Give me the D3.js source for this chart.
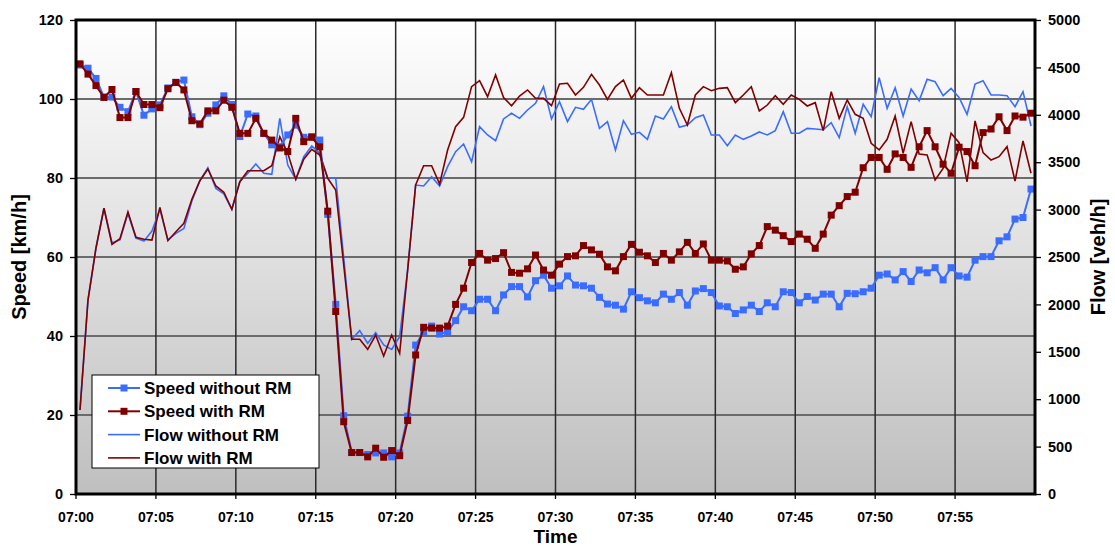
<!DOCTYPE html>
<html><head><meta charset="utf-8">
<script src="https://cdn.jsdelivr.net/npm/d3@7"></script>
<style>
html,body{margin:0;padding:0;background:#fff;}
svg{display:block;font-family:"Liberation Sans",Arial,sans-serif;font-weight:bold;}
</style></head>
<body>
<svg id="c" width="1115" height="547"></svg>
<script>
// ---- data ----
const times = d3.range(120).map(i => {
  const m = Math.floor(i / 2), s = (i % 2) * 30;
  return "07:" + String(m).padStart(2, "0") + ":" + String(s).padStart(2, "0");
});
const tickLabels = ["07:00","07:05","07:10","07:15","07:20","07:25","07:30","07:35","07:40","07:45","07:50","07:55"];
const speedTicks = [0,20,40,60,80,100,120];
const flowTicks = [0,500,1000,1500,2000,2500,3000,3500,4000,4500,5000];

const speedWithoutRM = [108.6,107.8,105.2,100.5,100.5,97.9,96.8,101.9,95.9,97.5,98.5,102.8,104.2,104.8,95.5,93.5,96.4,98.5,100.8,98.6,
90.5,96.2,95.7,91.3,88.4,87.9,90.9,93.4,90.3,90.5,89.6,70.8,48.0,19.8,10.5,10.5,10.0,10.4,10.4,9.4,
10.4,19.7,37.7,41.1,42.5,40.5,41.1,43.9,47.4,46.4,49.3,49.3,46.4,50.4,52.5,52.5,49.9,54.0,55.4,52.1,
52.7,55.2,52.9,52.7,52.1,49.8,48.1,47.8,46.8,51.2,49.7,48.9,48.4,50.6,49.3,51.0,47.8,51.4,52.0,51.0,
47.6,47.4,45.7,46.6,47.8,46.2,48.4,47.4,51.2,51.0,48.4,50.0,49.1,50.6,50.6,47.4,50.8,50.7,51.2,52.1,
55.4,55.7,54.2,56.3,53.8,56.7,56.0,57.3,54.2,57.3,55.2,54.9,59.2,60.1,60.1,64.1,65.1,69.6,70.0,77.2];

const speedWithRM = [108.9,106.3,103.4,100.4,102.4,95.3,95.3,101.9,98.6,98.6,97.8,102.6,104.2,102.3,94.5,93.7,97.0,97.0,99.7,97.9,
91.3,91.3,95.1,91.3,89.6,87.6,86.7,95.1,89.2,90.3,87.9,71.6,46.2,18.3,10.5,10.5,9.4,11.6,9.3,11.0,
9.7,18.6,35.2,42.2,42.0,42.0,42.5,48.0,52.1,58.6,60.9,59.2,59.6,61.1,56.1,55.9,57.0,60.5,56.7,55.4,
58.2,60.1,60.3,62.9,61.8,60.7,57.5,56.5,60.1,63.2,61.2,60.3,58.6,60.9,59.2,61.3,63.7,60.9,63.3,59.2,
59.2,59.0,56.9,57.5,60.8,62.9,67.7,66.8,65.4,63.9,65.8,64.5,62.2,65.8,70.6,73.0,75.3,76.4,82.6,85.2,
85.2,82.2,86.1,85.2,82.7,87.9,92.0,87.9,83.5,81.2,87.8,86.7,83.1,91.5,92.4,95.5,92.0,95.7,95.4,96.4];

const flowWithoutRM = [886,2046,2595,3014,2650,2680,2960,2700,2669,2774,3003,2680,2750,2802,3090,3305,3440,3224,3165,3003,
3294,3383,3481,3383,3372,3963,3470,3320,3558,3671,3594,3330,3330,2490,1632,1723,1590,1702,1572,1526,
1660,2363,3259,3249,3347,3249,3453,3611,3692,3505,3875,3787,3727,3956,4016,3963,4051,4121,4297,3956,
4138,3928,4079,4058,4163,3857,3928,3629,3938,3794,3815,3741,3987,3956,4086,3868,3892,3970,3998,3787,
3787,3674,3787,3741,3776,3819,3787,3833,4033,3805,3805,3857,3850,3843,3917,3759,4086,3805,4111,3980,
4392,4068,4286,3987,4272,4149,4374,4349,4202,4279,4184,4005,4325,4360,4209,4209,4202,4086,4244,3882];

const flowWithRM = [886,2046,2595,3014,2634,2693,2975,2708,2687,2679,3024,2672,2767,2855,3109,3305,3428,3249,3183,3003,
3294,3410,3410,3410,3463,3769,3594,3320,3531,3636,3576,3330,3207,2416,1632,1632,1526,1677,1456,1677,
1484,2363,3259,3463,3463,3270,3629,3875,3973,4297,4360,4191,4420,4181,4096,4198,4262,4174,4174,4096,
4325,4332,4209,4290,4427,4314,4163,4297,4367,4174,4286,4209,4209,4209,4444,4068,3892,4209,4297,4254,
4279,4286,4128,4209,4297,4040,4103,4202,4111,4209,4163,4093,4128,3833,4244,3963,4156,4005,3963,3699,
3629,3741,3987,3594,3928,3586,3576,3312,3435,3805,3706,3294,3935,3601,3523,3558,3664,3302,3724,3383];

const seriesNames = ["Speed without RM","Speed with RM","Flow without RM","Flow with RM"];
const blue = "#3a6cff", red = "#800000";

// ---- layout ----
const L = 76, R = 1035, T = 20, B = 494;
const svg = d3.select("#c");

const x = d3.scaleBand().domain(times).range([L, R]).paddingInner(0).paddingOuter(0);
const cx = t => x(t) + x.bandwidth() / 2;
const yS = d3.scaleLinear().domain([0, 120]).range([B, T]);
const yF = d3.scaleLinear().domain([0, 5000]).range([B, T]);

// gradient background
const defs = svg.append("defs");
const g = defs.append("linearGradient").attr("id", "bg").attr("x1", 0).attr("y1", 0).attr("x2", 0).attr("y2", 1);
g.append("stop").attr("offset", "0%").attr("stop-color", "#ffffff");
g.append("stop").attr("offset", "100%").attr("stop-color", "#bfbfbf");
svg.append("rect").attr("x", L).attr("y", T).attr("width", R - L).attr("height", B - T).attr("fill", "url(#bg)");

// horizontal grid
svg.append("g").selectAll("line").data(speedTicks.filter(d => d > 0 && d < 120)).join("line")
  .attr("x1", L).attr("x2", R).attr("y1", d => yS(d)).attr("y2", d => yS(d))
  .attr("stroke", "#6b6b6b").attr("stroke-width", 2);
// vertical grid
const tickCats = times.filter((t, i) => i % 10 === 0);
svg.append("g").selectAll("line").data(tickCats.slice(1)).join("line")
  .attr("x1", d => x(d)).attr("x2", d => x(d)).attr("y1", T).attr("y2", B)
  .attr("stroke", "#2a2a2a").attr("stroke-width", 1.5);

// lines
const lineS = d3.line().x((d, i) => cx(times[i])).y(d => yS(d));
const lineF = d3.line().x((d, i) => cx(times[i])).y(d => yF(d));
svg.append("path").datum(flowWithoutRM).attr("d", lineF).attr("fill", "none").attr("stroke", blue).attr("stroke-width", 1.6);
svg.append("path").datum(flowWithRM).attr("d", lineF).attr("fill", "none").attr("stroke", red).attr("stroke-width", 1.6);
svg.append("path").datum(speedWithoutRM).attr("d", lineS).attr("fill", "none").attr("stroke", blue).attr("stroke-width", 2);
svg.append("g").selectAll("rect").data(speedWithoutRM).join("rect")
  .attr("x", (d, i) => cx(times[i]) - 3.5).attr("y", d => yS(d) - 3.5).attr("width", 7).attr("height", 7).attr("fill", blue);
svg.append("path").datum(speedWithRM).attr("d", lineS).attr("fill", "none").attr("stroke", red).attr("stroke-width", 2);
svg.append("g").selectAll("rect").data(speedWithRM).join("rect")
  .attr("x", (d, i) => cx(times[i]) - 3.5).attr("y", d => yS(d) - 3.5).attr("width", 7).attr("height", 7).attr("fill", red);

// plot border
svg.append("rect").attr("x", L).attr("y", T).attr("width", R - L).attr("height", B - T)
  .attr("fill", "none").attr("stroke", "#000").attr("stroke-width", 3);

// axes
const axL = svg.append("g").attr("transform", `translate(${L},0)`)
  .call(d3.axisLeft(yS).tickValues(speedTicks).tickSize(6).tickPadding(7).tickFormat(d3.format("d")));
const axR = svg.append("g").attr("transform", `translate(${R},0)`)
  .call(d3.axisRight(yF).tickValues(flowTicks).tickSize(6).tickPadding(7).tickFormat(d3.format("d")));
const axB = svg.append("g").attr("transform", `translate(0,${B})`)
  .call(d3.axisBottom(x).tickValues(tickCats).tickSize(5).tickPadding(13)
    .tickFormat(d => tickLabels[tickCats.indexOf(d)]));
axB.selectAll(".tick").attr("transform", d => `translate(${x(d)},0)`);
[axL, axR, axB].forEach(a => {
  a.select(".domain").remove();
  a.selectAll("line").attr("stroke", "#000").attr("stroke-width", 1.3);
  a.selectAll("text").attr("font-family", "Liberation Sans, Arial, sans-serif")
    .attr("font-weight", "bold").attr("fill", "#000");
});
axL.selectAll("text").attr("font-size", 14.5);
axR.selectAll("text").attr("font-size", 14.5);
axB.selectAll("text").attr("font-size", 14);

// axis titles
svg.append("text").attr("transform", `translate(26,${(T + B) / 2}) rotate(-90)`)
  .attr("text-anchor", "middle").attr("font-size", 20).text("Speed [km/h]");
svg.append("text").attr("transform", `translate(1105,${(T + B) / 2}) rotate(-90)`)
  .attr("text-anchor", "middle").attr("font-size", 20).text("Flow [veh/h]");
svg.append("text").attr("x", (L + R) / 2).attr("y", 543)
  .attr("text-anchor", "middle").attr("font-size", 19).text("Time");

// legend
const lg = svg.append("g");
lg.append("rect").attr("x", 92).attr("y", 375).attr("width", 227).attr("height", 93)
  .attr("fill", "#fff").attr("stroke", "#000").attr("stroke-width", 1);
const colors = [blue, red, blue, red];
seriesNames.forEach((n, i) => {
  const yy = 388 + i * 23.3;
  lg.append("line").attr("x1", 108).attr("x2", 140).attr("y1", yy).attr("y2", yy)
    .attr("stroke", colors[i]).attr("stroke-width", i < 2 ? 2 : 1.6);
  if (i < 2) lg.append("rect").attr("x", 120.5).attr("y", yy - 3.5).attr("width", 7).attr("height", 7).attr("fill", colors[i]);
  lg.append("text").attr("x", 144).attr("y", yy + 6).attr("font-size", 17).text(n);
});
</script>
</body></html>
